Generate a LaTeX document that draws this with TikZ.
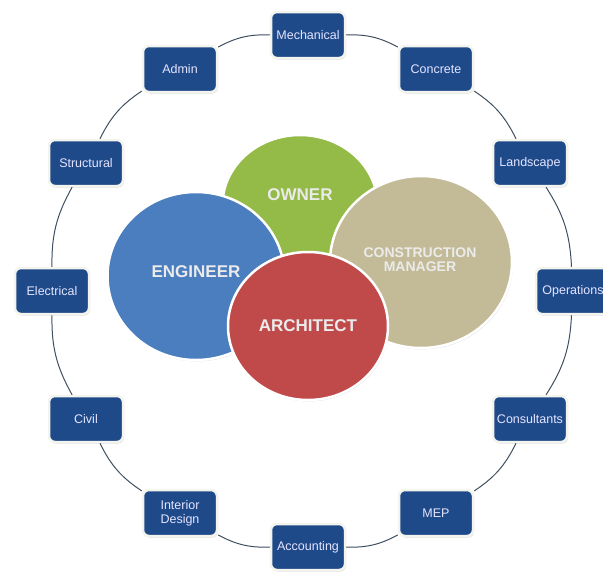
\documentclass[tikz,border=0pt]{standalone}
\usepackage{fontspec}
\setmainfont{Liberation Sans}
\usetikzlibrary{shadows,shapes.geometric}
\definecolor{navy}{HTML}{1F4A8A}
\definecolor{ringc}{HTML}{3F4F5F}
\definecolor{owng}{HTML}{94BA47}
\definecolor{engb}{HTML}{4A7EBF}
\definecolor{cmtan}{HTML}{C3BB97}
\definecolor{archr}{HTML}{C0494A}
\definecolor{boxedge}{HTML}{F4F4EE}
\begin{document}
\begin{tikzpicture}[x=1pt,y=-1pt,
  dept/.style={rectangle, rounded corners=6pt, fill=navy, draw=boxedge, line width=2.5pt,
    minimum width=74pt, minimum height=46pt, inner sep=2pt, text=white!90!blue,
    font=\fontsize{12.5}{14}\selectfont, align=center,
    drop shadow={opacity=0.3, shadow xshift=1pt, shadow yshift=-1.5pt}},
  party/.style={ellipse, draw=white, line width=2.5pt, inner sep=0pt,
    drop shadow={opacity=0.2, shadow xshift=1pt, shadow yshift=-1.5pt}},
  ptext/.style={text=white!92!black, font=\bfseries\fontsize{17}{19}\selectfont, align=center},
  ring/.style={draw=ringc, line width=1pt}]
\useasboundingbox (0,0) rectangle (603,574);
\clip (0,0) rectangle (603,574);

% ring boxes
\node[dept] (mech)  at (308,35)  {Mechanical};
\node[dept] (conc)  at (436,69)  {Concrete};
\node[dept] (land)  at (530,163) {Landscape};
\node[dept] (oper)  at (573,291) {Operations};
\node[dept] (cons)  at (530,419) {Consultants};
\node[dept] (mep)   at (436,513) {MEP};
\node[dept] (acct)  at (308,547) {Accounting};
\node[dept] (inter) at (180,513) {Interior\\Design};
\node[dept] (civil) at (86,419)  {Civil};
\node[dept] (elec)  at (52,291)  {Electrical};
\node[dept] (struc) at (86,163)  {Structural};
\node[dept] (admin) at (180,69)  {Admin};

% ring connectors
\foreach \a/\b in {mech/conc,conc/land,land/oper,oper/cons,cons/mep,mep/acct,acct/inter,inter/civil,civil/elec,elec/struc,struc/admin,admin/mech}
  \draw[ring] (\a) to[bend left=15] (\b);

% central parties
\node[party, fill=owng, minimum width=155pt, minimum height=140pt] (owner) at (300,205) {};
\node[party, fill=engb, minimum width=177pt, minimum height=168pt] (eng) at (196,276) {};
\node[party, fill=cmtan, minimum width=182pt, minimum height=172pt] (cm) at (421,262) {};
\node[party, fill=archr, minimum width=160pt, minimum height=148pt] (arch) at (308,326) {};

\node[ptext] (towner) at (300,195) {OWNER};
\node[ptext] (teng) at (196,272) {ENGINEER};
\node[ptext, font=\bfseries\fontsize{14}{14}\selectfont] (tcm) at (420,260) {CONSTRUCTION\\MANAGER};
\node[ptext] (tarch) at (308,326) {ARCHITECT};
\end{tikzpicture}
\end{document}
